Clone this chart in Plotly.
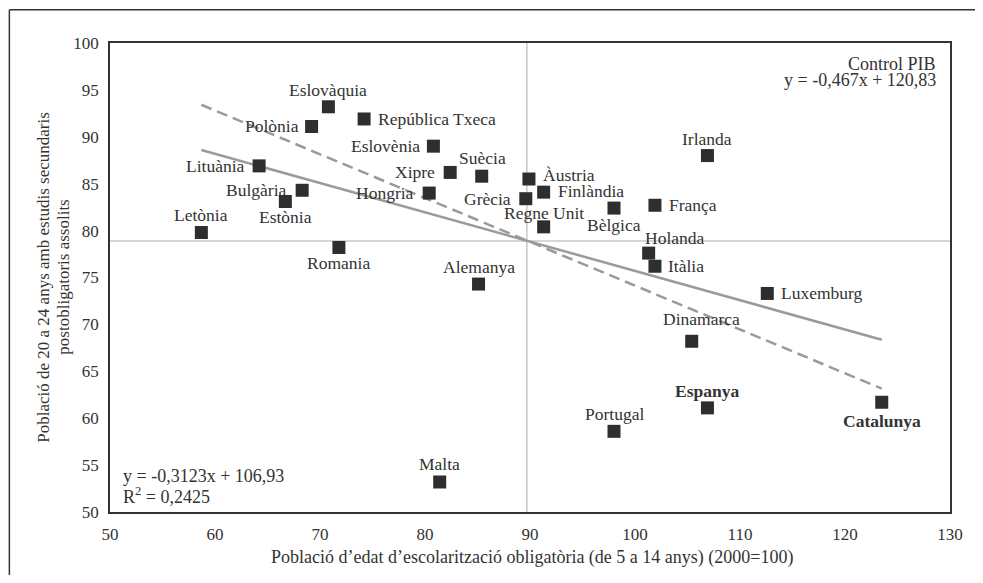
import plotly.graph_objects as go
import numpy as np

# ---------------- data ----------------
countries = ["Eslovàquia", "Polònia", "República Txeca", "Eslovènia", "Lituània",
             "Xipre", "Suècia", "Bulgària", "Estònia", "Hongria", "Letònia",
             "Romania", "Alemanya", "Irlanda", "Àustria", "Finlàndia", "Grècia",
             "Regne Unit", "Bèlgica", "França", "Holanda", "Itàlia", "Luxemburg",
             "Dinamarca", "Espanya", "Catalunya", "Portugal", "Malta"]
x_school_pop = [70.8, 69.2, 74.2, 80.8, 64.2, 82.4, 85.4, 68.3, 66.7, 80.4, 58.7,
                71.8, 85.1, 106.9, 89.9, 91.3, 89.6, 91.3, 98.0, 101.9, 101.3, 101.9,
                112.6, 105.4, 106.9, 123.5, 98.0, 81.4]
y_secondary = [93.2, 91.1, 91.9, 89.0, 86.9, 86.2, 85.8, 84.3, 83.1, 84.0, 79.8,
               78.2, 74.3, 88.0, 85.5, 84.1, 83.4, 80.4, 82.4, 82.7, 77.6, 76.2,
               73.3, 68.2, 61.1, 61.7, 58.6, 53.2]
bold_labels = ["Espanya", "Catalunya"]

# regression lines (from the chart's equations)
fit_slope, fit_intercept, fit_r2 = -0.3123, 106.93, 0.2425
pib_slope, pib_intercept = -0.467, 120.83
# reference cross lines (means)
mean_x, mean_y = 89.7, 78.9

x_ticks = [50, 60, 70, 80, 90, 100, 110, 120, 130]
y_ticks = [50, 55, 60, 65, 70, 75, 80, 85, 90, 95, 100]

# ---------------- label placement (anchor, dx px, dy px; dy up positive) ----
label_place = {
    "Eslovàquia": ("center", 0, 17), "Polònia": ("right", -11, 0),
    "República Txeca": ("left", 12, 0), "Eslovènia": ("right", -11, 0),
    "Lituània": ("right", -12, 0), "Xipre": ("right", -13, 0),
    "Suècia": ("center", 1, 18), "Bulgària": ("right", -14, 0),
    "Estònia": ("center", 0, -15), "Hongria": ("right", -13, 0),
    "Letònia": ("center", 0, 17), "Romania": ("center", 0, -16),
    "Alemanya": ("center", 0, 17), "Irlanda": ("center", 0, 17),
    "Àustria": ("left", 12, 4), "Finlàndia": ("left", 12, 1),
    "Grècia": ("right", -13, 0), "Regne Unit": ("center", 0, 14),
    "Bèlgica": ("center", 0, -17), "França": ("left", 12, 0),
    "Holanda": ("center", 26, 15), "Itàlia": ("left", 11, 0),
    "Luxemburg": ("left", 12, 0), "Dinamarca": ("center", 10, 22),
    "Espanya": ("center", 0, 17), "Catalunya": ("center", 0, -19),
    "Portugal": ("center", 0, 17), "Malta": ("center", 0, 18),
}

FONT = "Liberation Serif"
TXT = "#333333"

fig = go.Figure()

xs = np.array([min(x_school_pop), max(x_school_pop)])
fig.add_trace(go.Scatter(x=xs, y=pib_slope * xs + pib_intercept, mode="lines",
                         line=dict(color="#9a9a9a", width=2.5, dash="11px,6px"),
                         hoverinfo="skip", showlegend=False))
fig.add_trace(go.Scatter(x=xs, y=fit_slope * xs + fit_intercept, mode="lines",
                         line=dict(color="#9a9a9a", width=2.5),
                         hoverinfo="skip", showlegend=False))
fig.add_trace(go.Scatter(x=x_school_pop, y=y_secondary, mode="markers",
                         marker=dict(symbol="square", size=13, color="#2e2e2e"),
                         text=countries, showlegend=False))

annotations = []
for name, xv, yv in zip(countries, x_school_pop, y_secondary):
    anchor, dx, dy = label_place[name]
    txt = f"<b>{name}</b>" if name in bold_labels else name
    annotations.append(dict(x=xv, y=yv, xref="x", yref="y", text=txt,
                            showarrow=False, xanchor=anchor, yanchor="middle",
                            xshift=dx, yshift=dy,
                            font=dict(family=FONT, size=17.5, color=TXT)))

def fmt(v, d):
    return f"{v:.{d}f}".replace(".", ",")

annotations += [
    dict(x=0.9854, y=1, xref="paper", yref="paper", yshift=-21, text="Control PIB",
         showarrow=False, xanchor="right", yanchor="middle",
         font=dict(family=FONT, size=18, color=TXT)),
    dict(x=0.9854, y=1, xref="paper", yref="paper", yshift=-37,
         text=f"y = {fmt(pib_slope,3)}x + {fmt(pib_intercept,2)}",
         showarrow=False, xanchor="right", yanchor="middle",
         font=dict(family=FONT, size=18, color=TXT)),
    dict(x=0.0130, y=0, xref="paper", yref="paper", yshift=36,
         text=f"y = {fmt(fit_slope,4)}x + {fmt(fit_intercept,2)}",
         showarrow=False, xanchor="left", yanchor="middle",
         font=dict(family=FONT, size=18, color=TXT)),
    dict(x=0.0130, y=0, xref="paper", yref="paper", yshift=17,
         text=f"R<sup>2</sup> = {fmt(fit_r2,4)}",
         showarrow=False, xanchor="left", yanchor="middle",
         font=dict(family=FONT, size=18, color=TXT)),
    dict(x=-0.0795, y=0.5, xref="paper", yref="paper", textangle=-90,
         text="Població de 20 a 24 anys amb estudis secundaris",
         showarrow=False, xanchor="center", yanchor="middle",
         font=dict(family=FONT, size=17, color=TXT)),
    dict(x=-0.0558, y=0.5, xref="paper", yref="paper", textangle=-90,
         text="postobligatoris assolits",
         showarrow=False, xanchor="center", yanchor="middle",
         font=dict(family=FONT, size=17, color=TXT)),
    dict(x=0.5026, y=-0.0967, xref="paper", yref="paper",
         text="Població d’edat d’escolarització obligatòria (de 5 a 14 anys) (2000=100)",
         showarrow=False, xanchor="center", yanchor="middle",
         font=dict(family=FONT, size=18, color=TXT)),
]

shapes = [
    dict(type="line", xref="x", yref="paper", x0=mean_x, x1=mean_x, y0=0, y1=1,
         line=dict(color="#c8c8c8", width=1.5), layer="below"),
    dict(type="line", xref="paper", yref="y", x0=0, x1=1, y0=mean_y, y1=mean_y,
         line=dict(color="#c8c8c8", width=1.5), layer="below"),
    # outer frame (top and left)
    dict(type="line", xref="paper", yref="paper", x0=-0.1198, x1=1.06, y0=1.071, y1=1.071,
         line=dict(color="#333333", width=1.5)),
    dict(type="line", xref="paper", yref="paper", x0=-0.1198, x1=-0.1198, y0=1.071, y1=-0.2,
         line=dict(color="#333333", width=1.5)),
]

axis_common = dict(showgrid=False, zeroline=False, showline=True, mirror=True,
                   linecolor="#333333", linewidth=1.5, ticks="outside", ticklen=6,
                   tickcolor="rgba(0,0,0,0)",
                   tickfont=dict(family=FONT, size=17, color=TXT))

fig.update_layout(
    width=967, height=567,
    margin=dict(l=102, r=22, t=35, b=63),
    paper_bgcolor="white", plot_bgcolor="white",
    xaxis=dict(range=[50, 130], tickvals=x_ticks, **axis_common),
    yaxis=dict(range=[50, 100], tickvals=y_ticks, **axis_common),
    annotations=annotations, shapes=shapes, showlegend=False,
)

fig.write_html("out.html")
